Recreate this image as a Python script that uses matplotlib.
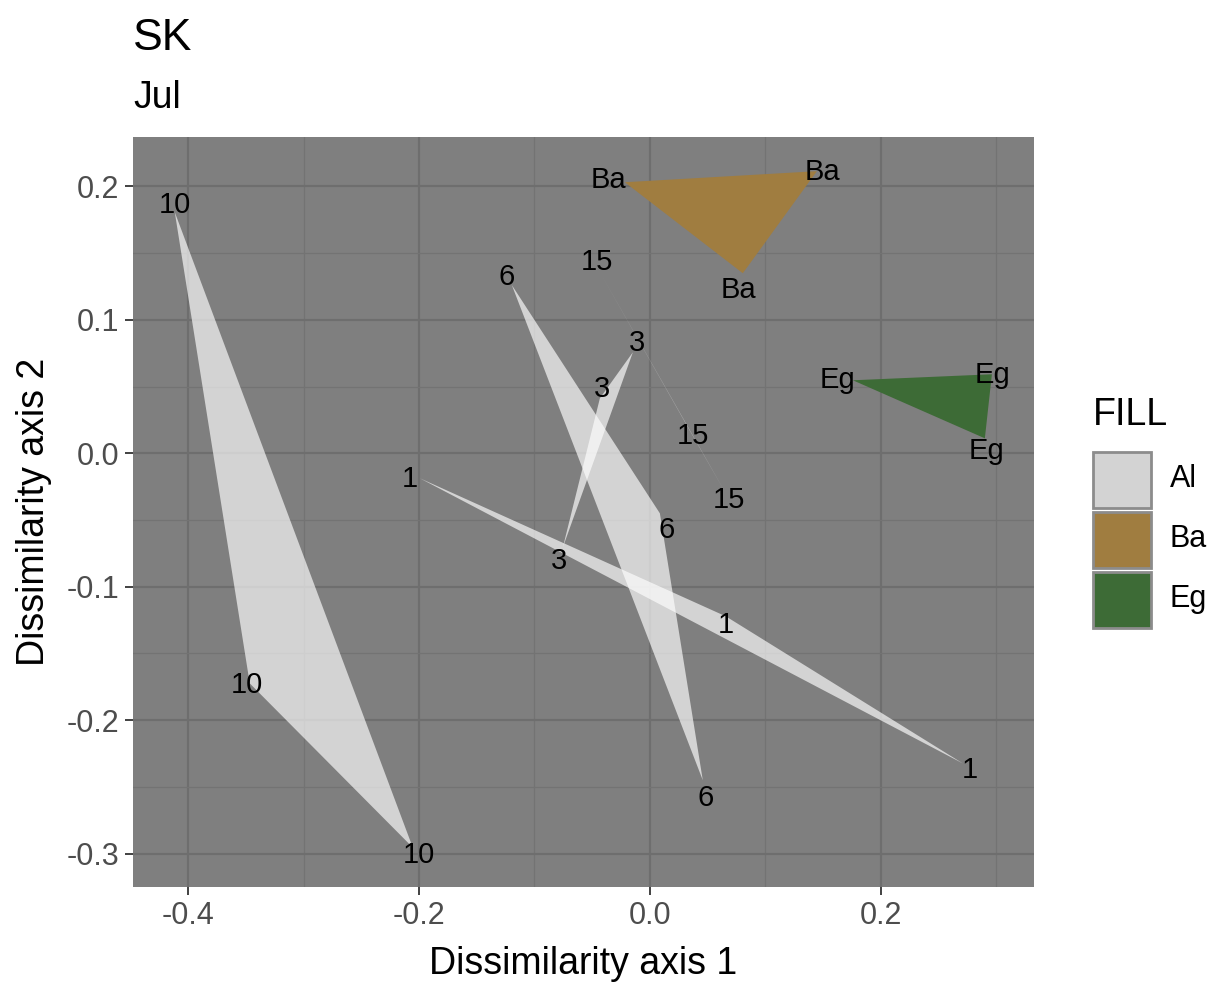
import matplotlib.pyplot as plt
from matplotlib.patches import Polygon, Rectangle
import numpy as np

plt.rcParams['font.family'] = ['Liberation Sans', 'DejaVu Sans']

# polygon groups: label text, fill group, vertex coords, label coords
groups = ["10", "6", "3", "1", "15", "Ba", "Eg"]
fill_group = ["Al", "Al", "Al", "Al", "Al", "Ba", "Eg"]

vert_x = [
    [-0.4118, -0.3468, -0.2055],
    [-0.1196, 0.0087, 0.0459],
    [-0.0147, -0.0433, -0.0754],
    [-0.1994, 0.0659, 0.2713],
    [-0.0433, 0.0347, 0.0668],
    [-0.0217, 0.1448, 0.0806],
    [0.1760, 0.2965, 0.2904],
]
vert_y = [
    [0.1807, -0.1724, -0.2954],
    [0.1260, -0.0450, -0.2450],
    [0.0757, 0.0412, -0.0705],
    [-0.0187, -0.1222, -0.2324],
    [0.1357, 0.0169, -0.0315],
    [0.2031, 0.2114, 0.1349],
    [0.0547, 0.0592, 0.0112],
]
label_x = [
    [-0.4118, -0.3494, -0.2001],
    [-0.1240, 0.0147, 0.0485],
    [-0.0113, -0.0416, -0.0789],
    [-0.2081, 0.0659, 0.2774],
    [-0.0459, 0.0373, 0.0685],
    [-0.0355, 0.1495, 0.0771],
    [0.1627, 0.2974, 0.2922],
]
label_y = [
    [0.1859, -0.1739, -0.3013],
    [0.1319, -0.0577, -0.2586],
    [0.0825, 0.0480, -0.0810],
    [-0.0195, -0.1289, -0.2376],
    [0.1432, 0.0127, -0.0352],
    [0.2046, 0.2106, 0.1222],
    [0.0547, 0.0585, 0.0015],
]

legend_cats = ["Al", "Ba", "Eg"]
legend_cols = ["#D3D3D3", "#A07D40", "#3D6B36"]
poly_style = {"Al": ("#FFFFFF", 0.66), "Ba": ("#A07D40", 1.0), "Eg": ("#3D6B36", 1.0)}

W, H = 1217, 993
fig = plt.figure(figsize=(W / 100, H / 100), dpi=100)
ax = fig.add_axes([133 / W, 1 - 887 / H, (1034 - 133) / W, (887 - 137) / H])

ax.set_facecolor("#7F7F7F")
ax.set_xlim(-0.448, 0.333)
ax.set_ylim(-0.325, 0.237)
ax.set_xticks([-0.4, -0.2, 0.0, 0.2])
ax.set_xticklabels(["-0.4", "-0.2", "0.0", "0.2"])
ax.set_yticks([-0.3, -0.2, -0.1, 0.0, 0.1, 0.2])
ax.set_yticklabels(["-0.3", "-0.2", "-0.1", "0.0", "0.1", "0.2"])
ax.set_xticks([-0.3, -0.1, 0.1, 0.3], minor=True)
ax.set_yticks([-0.25, -0.15, -0.05, 0.05, 0.15], minor=True)
ax.grid(True, which="major", color="#6E6E6E", lw=1.6)
ax.grid(True, which="minor", color="#737373", lw=0.9)
ax.set_axisbelow(True)
for s in ax.spines.values():
    s.set_visible(False)
ax.tick_params(which="major", length=6, width=1.3, color="#333333",
               labelsize=22, labelcolor="#4D4D4D", pad=4)
ax.tick_params(which="minor", length=0)

for i, g in enumerate(groups):
    col, a = poly_style[fill_group[i]]
    pts = np.column_stack([vert_x[i], vert_y[i]])
    ax.add_patch(Polygon(pts, closed=True, facecolor=col, alpha=a,
                         edgecolor="none", zorder=2))
    for x, y in zip(label_x[i], label_y[i]):
        ax.text(x, y, g, ha="center", va="center", fontsize=21,
                color="black", zorder=3)

ax.set_xlabel("Dissimilarity axis 1", fontsize=27, labelpad=11)
ax.set_ylabel("Dissimilarity axis 2", fontsize=27, labelpad=10)

fig.text(133 / W, 1 - 38 / H, "SK", fontsize=32, ha="left", va="center")
fig.text(133 / W, 1 - 98 / H, "Jul", fontsize=27, ha="left", va="center")

# legend
fig.text(1093 / W, 1 - 415 / H, "FILL", fontsize=27, ha="left", va="center")
key_top = 450
key_h = 60
for j, (cat, col) in enumerate(zip(legend_cats, legend_cols)):
    y0 = key_top + j * key_h
    fig.patches.append(Rectangle((1093 / W, 1 - (y0 + key_h - 2) / H),
                                 58 / W, (key_h - 4) / H,
                                 facecolor=col, edgecolor="#8C8C8C", lw=2,
                                 transform=fig.transFigure))
    fig.text(1170 / W, 1 - (y0 + key_h / 2 - 1) / H, cat, fontsize=22,
             ha="left", va="center")

fig.savefig("out.png", dpi=100)
